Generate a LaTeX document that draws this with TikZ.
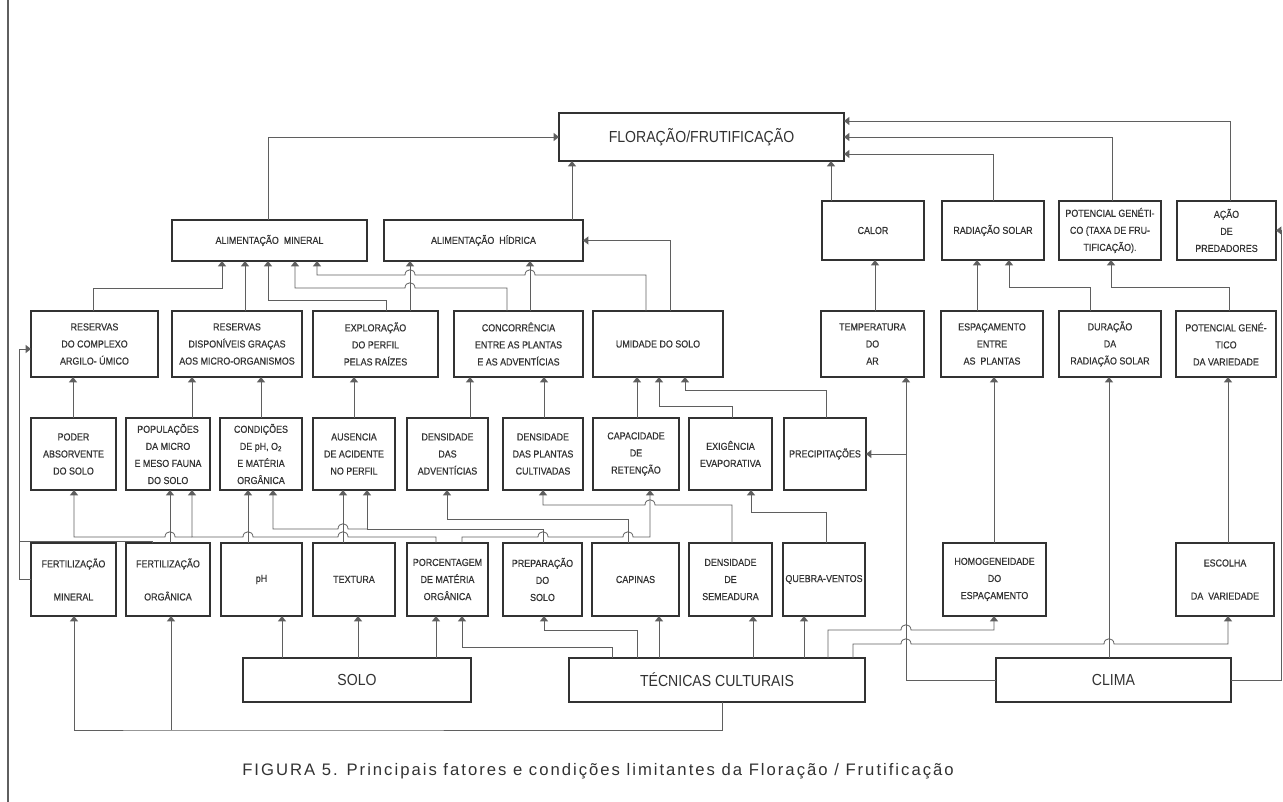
\documentclass[tikz,border=0pt]{standalone}
\usepackage{fontspec}
\setmainfont{Liberation Sans}
\newfontfamily\boxfont{Liberation Sans}[FakeStretch=0.88,FakeBold=0.5]
\newfontfamily\bigfont{Liberation Sans}[FakeStretch=0.88]
\newfontfamily\capfont{Liberation Sans}[LetterSpace=12]
\usetikzlibrary{arrows.meta}
\definecolor{ink}{RGB}{50,50,50}
\definecolor{wirec}{RGB}{95,95,95}
\definecolor{txt}{RGB}{50,50,50}
\tikzset{
 box/.style={draw=ink, line width=1.8pt, inner sep=0pt, outer sep=0pt, align=center,
   font={\boxfont\fontsize{7.6}{12.8}\selectfont}, text=txt},
 bigbox/.style={box, font={\bigfont\fontsize{12}{14}\selectfont}},
 arr/.style={draw=wirec, line width=0.6pt, -{Triangle[width=6pt,length=4pt]}},
 wire/.style={draw=wirec, line width=0.6pt},
}
\newcommand\bx[7][box]{\node[#1, minimum width={(#5-#3)*0.75pt}, minimum height={(#6-#4)*0.75pt}] (#2) at ({(#3+#5)/2},{(#4+#6)/2}) {#7};}
\newcommand\hopR[2]{-- ({#1-5},{#2}) .. controls ({#1-5},{#2-7}) and ({#1+5},{#2-7}) .. ({#1+5},{#2})}
\newcommand\hopL[2]{-- ({#1+5},{#2}) .. controls ({#1+5},{#2-7}) and ({#1-5},{#2-7}) .. ({#1-5},{#2})}
\begin{document}
\begin{tikzpicture}[x=0.75pt,y=-0.75pt]
\useasboundingbox (0,0) rectangle (1283,802);
\draw[wirec, line width=0.8pt] (8,0) -- (8,802);
% top
\bx[bigbox]{flor}{559}{113}{844}{161}{FLORAÇÃO/FRUTIFICAÇÃO}
% row 1
\bx{almin}{172}{220}{367}{261}{ALIMENTAÇÃO\ \ MINERAL}
\bx{alhid}{384}{220}{583}{261}{ALIMENTAÇÃO\ \ HÍDRICA}
\bx{calor}{822}{201}{924}{260}{CALOR}
\bx{radsol}{942}{201}{1044}{260}{RADIAÇÃO SOLAR}
\bx{potgen}{1059}{201}{1161}{260}{POTENCIAL GENÉTI-\\CO (TAXA DE FRU-\\TIFICAÇÃO).}
\bx{acao}{1177}{201}{1276}{260}{AÇÃO\\DE\\PREDADORES}
% row 2
\bx{resc}{31}{311}{158}{377}{RESERVAS\\DO COMPLEXO\\ARGILO- ÚMICO}
\bx{resd}{172}{311}{302}{377}{RESERVAS\\DISPONÍVEIS GRAÇAS\\AOS MICRO-ORGANISMOS}
\bx{expl}{313}{311}{438}{377}{EXPLORAÇÃO\\DO PERFIL\\PELAS RAÍZES}
\bx{conc}{454}{311}{583}{377}{CONCORRÊNCIA\\ENTRE AS PLANTAS\\E AS ADVENTÍCIAS}
\bx{umid}{593}{311}{723}{377}{UMIDADE DO SOLO}
\bx{temp}{821}{311}{924}{377}{TEMPERATURA\\DO\\AR}
\bx{espac}{941}{311}{1043}{377}{ESPAÇAMENTO\\ENTRE\\AS\ \ PLANTAS}
\bx{dur}{1059}{311}{1161}{377}{DURAÇÃO\\DA\\RADIAÇÃO SOLAR}
\bx{potvar}{1176}{311}{1276}{377}{POTENCIAL GENÉ-\\TICO\\DA VARIEDADE}
% row 3
\bx{poder}{31}{418}{116}{490}{PODER\\ABSORVENTE\\DO SOLO}
\bx{popul}{126}{418}{210}{490}{POPULAÇÕES\\DA MICRO\\E MESO FAUNA\\DO SOLO}
\bx{cond}{220}{418}{302}{490}{CONDIÇÕES\\DE pH, O\textsubscript{2}\\E MATÉRIA\\ORGÂNICA}
\bx{aus}{313}{418}{395}{490}{AUSENCIA\\DE ACIDENTE\\NO PERFIL}
\bx{dadv}{407}{418}{488}{490}{DENSIDADE\\DAS\\ADVENTÍCIAS}
\bx{dpl}{503}{418}{583}{490}{DENSIDADE\\DAS PLANTAS\\CULTIVADAS}
\bx{cap}{593}{418}{679}{490}{CAPACIDADE\\DE\\RETENÇÃO}
\bx{exig}{689}{418}{772}{490}{EXIGÊNCIA\\EVAPORATIVA}
\bx{prec}{784}{418}{866}{490}{PRECIPITAÇÕES}
% row 4
\bx{fmin}{31}{543}{116}{616}{FERTILIZAÇÃO\\[12pt]MINERAL}
\bx{forg}{126}{543}{210}{616}{FERTILIZAÇÃO\\[12pt]ORGÂNICA}
\bx{ph}{221}{543}{302}{616}{pH}
\bx{textu}{313}{543}{395}{616}{TEXTURA}
\bx{porc}{407}{543}{488}{616}{PORCENTAGEM\\DE MATÉRIA\\ORGÂNICA}
\bx{prep}{503}{543}{582}{616}{PREPARAÇÃO\\DO\\SOLO}
\bx{capin}{592}{543}{679}{616}{CAPINAS}
\bx{semea}{689}{543}{772}{616}{DENSIDADE\\DE\\SEMEADURA}
\bx{queb}{783}{543}{865}{616}{QUEBRA-VENTOS}
\bx{homog}{943}{543}{1046}{616}{HOMOGENEIDADE\\DO\\ESPAÇAMENTO}
\bx{escol}{1176}{543}{1274}{616}{ESCOLHA\\[12pt]DA\ \ VARIEDADE}
% row 5
\bx[bigbox]{solo}{243}{658}{471}{702}{SOLO}
\bx[bigbox]{tec}{569}{658}{865}{702}{TÉCNICAS CULTURAIS}
\bx[bigbox]{clima}{996}{658}{1231}{702}{CLIMA}
% caption
\node[font={\capfont\fontsize{12.5}{14}\selectfont}, text=txt] (caption) at (598,771)
 {FIGURA 5. Principais fatores e condições limitantes da Floração / Frutificação};
% junctions
\coordinate (jA) at (367,529);
\coordinate (jC) at (192,537);
\coordinate (jD) at (171,730);
\coordinate (jE) at (19,541);
% ---- to FLORACAO
\draw[arr] (almin.north -| 268,0) |- (flor.west);
\draw[arr] (alhid.north -| 572,0) -- (flor.south -| 572,0);
\draw[arr] (calor.north -| 831,0) -- (flor.south -| 831,0);
\draw[arr] (radsol.north -| 993,0) |- (flor.east |- 0,154);
\draw[arr] (potgen.north -| 1112,0) |- (flor.east |- 0,137);
\draw[arr] (acao.north -| 1230,0) |- (flor.east |- 0,121);
% ---- row 2 -> row 1
\draw[arr] (resc.north -| 93,0) |- (222,288) -- (almin.south -| 222,0);
\draw[arr] (resd.north -| 245,0) -- (almin.south -| 245,0);
\draw[arr] (expl.north -| 386,0) |- (268,300) -- (almin.south -| 268,0);
\draw[arr] (expl.north -| 410,0) -- (alhid.south -| 410,0);
\draw[arr] (conc.north -| 507,0) -- (507,288) \hopL{410}{288} -- (295,288) -- (almin.south -| 295,0);
\draw[arr] (conc.north -| 530,0) -- (alhid.south -| 530,0);
\draw[arr] (umid.north -| 646,0) -- (646,275) \hopL{530}{275} \hopL{410}{275} -- (317,275) -- (almin.south -| 317,0);
\draw[arr] (umid.north -| 670,0) |- (alhid.east);
\draw[arr] (temp.north -| 875,0) -- (calor.south -| 875,0);
\draw[arr] (espac.north -| 977,0) -- (radsol.south -| 977,0);
\draw[arr] (dur.north -| 1090,0) |- (1009,287) -- (radsol.south -| 1009,0);
\draw[arr] (potvar.north -| 1229,0) |- (1111,287) -- (potgen.south -| 1111,0);
% ---- row 3 -> row 2
\draw[arr] (poder.north -| 73,0) -- (resc.south -| 73,0);
\draw[arr] (popul.north -| 192,0) -- (resd.south -| 192,0);
\draw[arr] (cond.north -| 261,0) -- (resd.south -| 261,0);
\draw[arr] (aus.north -| 354,0) -- (expl.south -| 354,0);
\draw[arr] (dadv.north -| 470,0) -- (conc.south -| 470,0);
\draw[arr] (dpl.north -| 544,0) -- (conc.south -| 544,0);
\draw[arr] (cap.north -| 637,0) -- (umid.south -| 637,0);
\draw[arr] (exig.north -| 732,0) |- (659,406) -- (umid.south -| 659,0);
\draw[arr] (prec.north -| 826,0) |- (685,390) -- (umid.south -| 685,0);
\draw[arr] (clima.west) -| (temp.south -| 906,0);
\draw[arr] (prec.east -| 906,0) -- (prec.east);
\draw[arr] (homog.north -| 994,0) -- (espac.south -| 994,0);
\draw[arr] (clima.north -| 1109,0) -- (dur.south -| 1109,0);
\draw[arr] (escol.north -| 1228,0) -- (potvar.south -| 1228,0);
% ---- row 4 -> row 3
\draw[arr] (prep.north -| 543,0) -- (543,529) -- (jA) -- (aus.south -| jA);
\draw[arr] (jA) \hopL{343}{529} -- (273,529) -- (cond.south -| 273,0);
\draw[arr] (porc.north -| 436,0) -- (436,537) \hopL{343}{537} \hopL{248}{537} -- (jC) -- (popul.south -| jC);
\draw[arr] (jC) \hopL{170}{537} -- (74,537) -- (poder.south -| 74,0);
\draw[arr] (textu.north -| 343,0) -- (aus.south -| 343,0);
\draw[arr] (ph.north -| 248,0) -- (cond.south -| 248,0);
\draw[arr] (forg.north -| 170,0) -- (popul.south -| 170,0);
\draw[arr] (porc.north -| 462,0) -- (462,537) \hopR{543}{537} \hopR{628}{537} -- (650,537) -- (cap.south -| 650,0);
\draw[arr] (semea.north -| 732,0) -- (732,505) \hopL{650}{505} -- (543,505) -- (dpl.south -| 543,0);
\draw[arr] (capin.north -| 628,0) -- (628,519) -- (447,519) -- (dadv.south -| 447,0);
\draw[arr] (queb.north -| 826,0) -- (826,512) -- (751,512) -- (exig.south -| 751,0);
\draw[arr] (fmin.west) -- (fmin.west -| 19,0) |- (resc.west |- 0,349);
\draw[wire] (forg.north -| 152,0) -- (152,541) -- (jE);
% ---- row 5 -> row 4
\draw[arr] (tec.south -| 722,0) -- (722,730) -- (jD) -- (74,730) -- (fmin.south -| 74,0);
\draw[arr] (jD) -- (forg.south -| jD);
\draw[arr] (solo.north -| 282,0) -- (ph.south -| 282,0);
\draw[arr] (solo.north -| 358,0) -- (textu.south -| 358,0);
\draw[arr] (solo.north -| 436,0) -- (porc.south -| 436,0);
\draw[arr] (tec.north -| 612,0) -- (612,647) -- (462,647) -- (porc.south -| 462,0);
\draw[arr] (tec.north -| 637,0) -- (637,630) -- (544,630) -- (prep.south -| 544,0);
\draw[arr] (tec.north -| 659,0) -- (capin.south -| 659,0);
\draw[arr] (tec.north -| 753,0) -- (semea.south -| 753,0);
\draw[arr] (tec.north -| 804,0) -- (queb.south -| 804,0);
\draw[arr] (tec.north -| 828,0) -- (828,630) \hopR{906}{630} -- (994,630) -- (homog.south -| 994,0);
\draw[arr] (tec.north -| 853,0) -- (853,644) \hopR{906}{644} \hopR{1109}{644} -- (1228,644) -- (escol.south -| 1228,0);
\draw[arr] (clima.east) -- (clima.east -| 1281,0) |- (acao.east);
\end{tikzpicture}
\end{document}
